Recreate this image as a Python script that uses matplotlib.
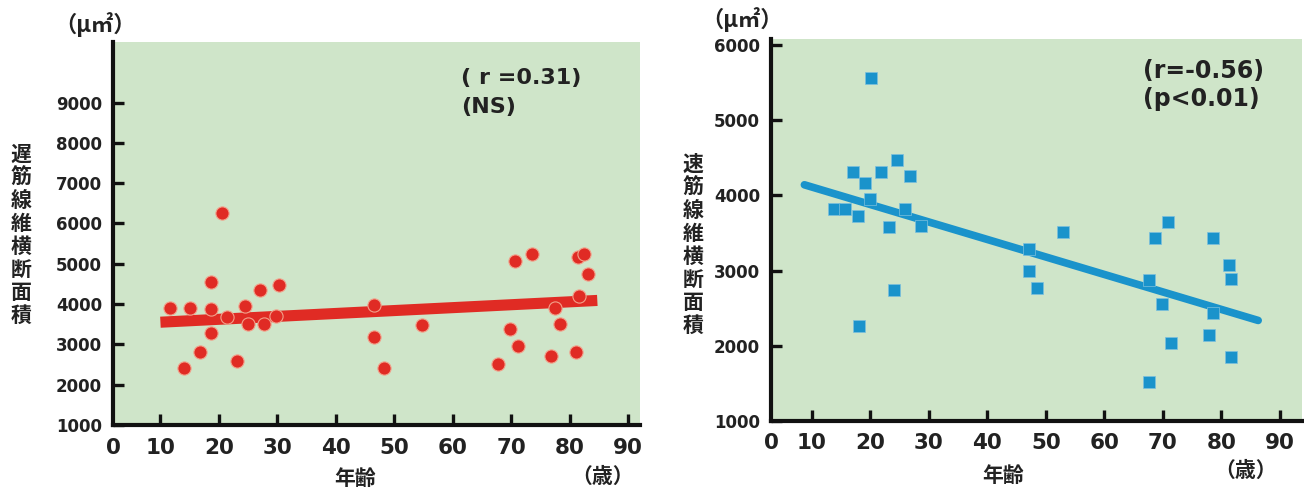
import matplotlib.pyplot as plt

# slow-twitch fibres (left panel)
slow_age = [11.6, 15.0, 14.1, 16.7, 18.7, 18.7, 18.7, 20.6, 21.3, 23.1, 24.4,
            25.0, 27.0, 27.7, 30.3, 29.8, 46.5, 46.6, 48.2, 54.7, 67.8, 69.7,
            70.7, 71.2, 73.6, 76.7, 77.4, 78.3, 81.0, 81.4, 82.4, 83.1, 81.5]
slow_area = [3900, 3900, 2420, 2820, 4540, 3880, 3270, 6270, 3680, 2590, 3960,
             3500, 4360, 3500, 4480, 3700, 3980, 3180, 2420, 3490, 2520, 3390,
             5070, 2960, 5250, 2700, 3900, 3500, 2820, 5170, 5250, 4740, 4200]
slow_fit_age = [10, 84.7]
slow_fit_area = [3550, 4090]

# fast-twitch fibres (right panel)
fast_age = [20.1, 13.8, 15.7, 17.0, 17.9, 19.1, 20.0, 21.8, 23.1, 24.6, 24.1,
            18.0, 25.9, 26.8, 28.7, 47.1, 47.1, 48.4, 52.9, 67.7, 68.6, 67.7,
            69.9, 70.9, 71.4, 78.5, 78.5, 77.9, 81.3, 81.6, 81.6]
fast_area = [5556, 3813, 3813, 4309, 3722, 4159, 3952, 4309, 3583, 4468, 2742,
             2266, 3813, 4264, 3595, 3290, 2988, 2770, 3516, 2881, 3437, 1517,
             2556, 3647, 2040, 3437, 2437, 2147, 3079, 2893, 1850]
fast_fit_age = [8.7, 86.3]
fast_fit_area = [4141, 2337]

x_ticks = [10, 20, 30, 40, 50, 60, 70, 80, 90]
slow_yticks = [1000, 2000, 3000, 4000, 5000, 6000, 7000, 8000, 9000]
fast_yticks = [1000, 2000, 3000, 4000, 5000, 6000]

BG = '#cfe5c9'
RED = '#e02b24'
BLUE = '#1a93cb'
JP = ['Noto Sans CJK JP', 'DejaVu Sans']


def style_axes(ax, xlim, ylim, yticks):
    ax.set_facecolor(BG)
    ax.set_xlim(*xlim)
    ax.set_ylim(*ylim)
    for side in ['top', 'right']:
        ax.spines[side].set_visible(False)
    for side in ['left', 'bottom']:
        ax.spines[side].set_linewidth(3)
        ax.spines[side].set_color('#111111')
    ax.set_xticks(x_ticks)
    ax.set_xticklabels([str(t) for t in x_ticks])
    ax.set_xticks([xlim[0]], labels=['0'], minor=True)
    ax.set_yticks(yticks)
    ax.set_yticklabels([str(t) for t in yticks])
    ax.tick_params(which='major', direction='in', length=8, width=2.4,
                   color='#111111')
    ax.tick_params(which='minor', length=0)
    ax.tick_params(axis='x', which='both', pad=9)
    ax.tick_params(axis='y', pad=8)
    for lab in ax.get_xticklabels(minor=True) + ax.get_xticklabels():
        lab.set_fontsize(15.5)
        lab.set_fontweight('bold')
        lab.set_color('#222222')
    for lab in ax.get_yticklabels():
        lab.set_fontsize(12)
        lab.set_fontweight('bold')
        lab.set_color('#222222')


fig = plt.figure(figsize=(13.04, 4.91), dpi=100)

ax1 = fig.add_axes([0.0867, 0.1344, 0.4041, 0.7800])
style_axes(ax1, (1.9, 92), (1000, 10500), slow_yticks)
ax1.plot(slow_fit_age, slow_fit_area, color=RED, lw=8, solid_capstyle='butt',
         zorder=2)
ax1.plot(slow_age, slow_area, 'o', color=RED, ms=9.5, mec='#f2a08a', mew=0.8,
         zorder=3)
ax1.text(0.66, 0.905, '( r =0.31)', transform=ax1.transAxes, fontsize=16,
         fontweight='bold', color='#222222', va='center')
ax1.text(0.66, 0.83, '(NS)', transform=ax1.transAxes, fontsize=16,
         fontweight='bold', color='#222222', va='center')

ax2 = fig.add_axes([0.5913, 0.1426, 0.4072, 0.7780])
style_axes(ax2, (3.0, 93.8), (1000, 6080), fast_yticks)
ax2.plot(fast_fit_age, fast_fit_area, color=BLUE, lw=5.5, solid_capstyle='round',
         zorder=2)
ax2.plot(fast_age, fast_area, 's', color=BLUE, ms=8, mec='#7cc0dd', mew=0.5,
         zorder=3)
ax2.text(0.70, 0.915, '(r=-0.56)', transform=ax2.transAxes, fontsize=17,
         fontweight='bold', color='#222222', va='center')
ax2.text(0.70, 0.842, '(p<0.01)', transform=ax2.transAxes, fontsize=17,
         fontweight='bold', color='#222222', va='center')

# Japanese labels
W, H = 1304, 491
def ftext(x, y, s, **kw):
    fig.text(x / W, 1 - y / H, s, family=JP, fontweight='bold', color='#222222',
             ha='center', va='center', **kw)

ftext(95, 25, '（μ㎡）', fontsize=16)
ftext(742, 20, '（μ㎡）', fontsize=16)
ftext(21, 235, '\n'.join('遅筋線維横断面積'), fontsize=15, linespacing=1.12)
ftext(693, 245, '\n'.join('速筋線維横断面積'), fontsize=15, linespacing=1.12)
ftext(355, 478, '年齢', fontsize=15)
ftext(1003, 475, '年齢', fontsize=15)
ftext(603, 476, '（歳）', fontsize=15)
ftext(1246, 470, '（歳）', fontsize=15)

fig.savefig('out.png', dpi=100)
